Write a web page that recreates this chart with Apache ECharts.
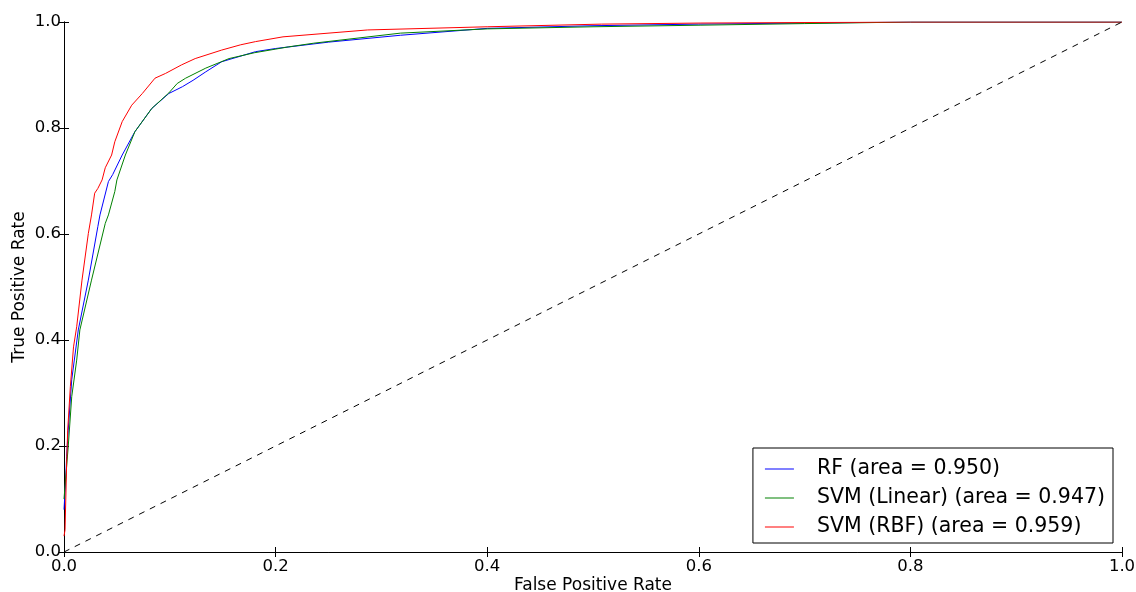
<!DOCTYPE html>
<html><head><meta charset="utf-8">
<script src="https://cdn.jsdelivr.net/npm/echarts@6/dist/echarts.min.js"></script>
<style>html,body{margin:0;padding:0;background:#fff}#c{width:1136px;height:592px}</style>
</head><body><div id="c"></div>
<script>
const tickValues = [0, 0.2, 0.4, 0.6, 0.8, 1.0];
const seriesNames = ['RF (area = 0.950)', 'SVM (Linear) (area = 0.947)', 'SVM (RBF) (area = 0.959)'];
const rfData = [[0,0.08],[0.0016,0.136],[0.0025,0.18],[0.004,0.23],[0.0073,0.325],[0.0135,0.419],[0.023,0.513],[0.032,0.614],[0.034,0.636],[0.042,0.699],[0.046,0.712],[0.055,0.749],[0.067,0.793],[0.083,0.837],[0.099,0.865],[0.112,0.878],[0.122,0.890],[0.134,0.906],[0.149,0.925],[0.181,0.944],[0.2,0.95],[0.25,0.962],[0.318,0.975],[0.4,0.988],[0.5,0.993],[0.6,0.996],[0.7,0.998],[0.8,1.0],[1,1]];
const linData = [[0,0.1],[0.004,0.199],[0.0073,0.293],[0.012,0.362],[0.015,0.419],[0.026,0.513],[0.039,0.620],[0.042,0.636],[0.048,0.680],[0.050,0.702],[0.058,0.749],[0.067,0.793],[0.083,0.837],[0.099,0.866],[0.107,0.884],[0.115,0.894],[0.134,0.913],[0.156,0.931],[0.18,0.942],[0.212,0.953],[0.236,0.960],[0.318,0.979],[0.4,0.987],[0.5,0.991],[0.602,0.994],[0.7,0.997],[0.8,1.0],[1,1]];
const rbfData = [[0,0.03],[0.001,0.042],[0.0025,0.168],[0.0035,0.23],[0.006,0.312],[0.009,0.387],[0.012,0.425],[0.017,0.513],[0.023,0.601],[0.026,0.636],[0.029,0.677],[0.032,0.686],[0.036,0.702],[0.039,0.725],[0.045,0.749],[0.048,0.774],[0.055,0.812],[0.064,0.843],[0.074,0.865],[0.086,0.894],[0.096,0.903],[0.111,0.919],[0.124,0.931],[0.149,0.947],[0.167,0.957],[0.181,0.963],[0.207,0.972],[0.287,0.985],[0.4,0.991],[0.508,0.996],[0.602,0.998],[0.8,1.0],[1,1]];
const diagData = [[0,0],[1,1]];

const font = 'DejaVu Sans';
const chart = echarts.init(document.getElementById('c'));
const baseAxis = {
  type: 'value', min: 0, max: 1, interval: 0.2,
  axisLine: {show: true, lineStyle: {color: '#000', width: 1}},
  axisTick: {show: true, inside: true, length: 5, lineStyle: {color: '#000'}},
  splitLine: {show: false}
};
chart.setOption({
  animation: false,
  backgroundColor: '#fff',
  grid: {left: 64, right: 14, top: 22, bottom: 40, containLabel: false, outerBoundsMode: 'none'},
  xAxis: [
    Object.assign({}, baseAxis, {position: 'bottom',
      axisLabel: {fontFamily: font, fontSize: 16.5, color: '#000', margin: 6, formatter: v => v.toFixed(1)},
      name: 'False Positive Rate', nameLocation: 'middle', nameGap: 25.5, nameMoveOverlap: false,
      nameTextStyle: {fontFamily: font, fontSize: 17, color: '#000'}}),
    Object.assign({}, baseAxis, {position: 'top', axisLabel: {show: false}})
  ],
  yAxis: [
    Object.assign({}, baseAxis, {position: 'left',
      axisLabel: {fontFamily: font, fontSize: 16.5, color: '#000', margin: 3, formatter: v => v.toFixed(1)},
      name: 'True Positive Rate', nameLocation: 'middle', nameGap: 36, nameMoveOverlap: false,
      nameTextStyle: {fontFamily: font, fontSize: 17, color: '#000'}}),
    Object.assign({}, baseAxis, {position: 'right', axisLabel: {show: false}})
  ],
  legend: {
    orient: 'vertical', right: 23, bottom: 49,
    backgroundColor: '#fff', borderColor: '#000', borderWidth: 1, borderRadius: 0,
    padding: [9, 8, 4, 12], itemGap: 5, itemWidth: 29, itemHeight: 1, icon: 'rect',
    textStyle: {fontFamily: font, fontSize: 20.5, lineHeight: 24, color: '#000', padding: [0, 0, 0, 18]},
    data: seriesNames
  },
  series: [
    {name: seriesNames[0], type: 'line', data: rfData, symbol: 'none', lineStyle: {color: '#0000ff', width: 1}, itemStyle: {color: '#0000ff'}},
    {name: seriesNames[1], type: 'line', data: linData, symbol: 'none', lineStyle: {color: '#008000', width: 1}, itemStyle: {color: '#008000'}},
    {name: seriesNames[2], type: 'line', data: rbfData, symbol: 'none', lineStyle: {color: '#ff0000', width: 1}, itemStyle: {color: '#ff0000'}},
    {name: 'diag', type: 'line', data: diagData, symbol: 'none', lineStyle: {color: '#000', width: 1, type: [6, 6]}, silent: true}
  ]
});
</script></body></html>
